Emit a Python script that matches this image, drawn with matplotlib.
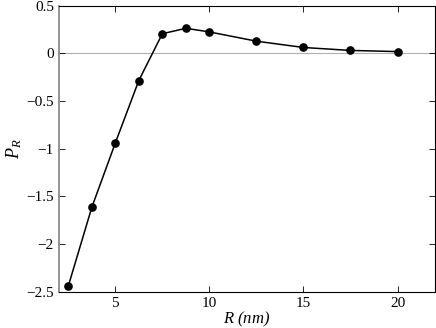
import matplotlib
matplotlib.use("Agg")
import matplotlib.pyplot as plt

# data
R_nm = [2.5, 3.75, 5.0, 6.25, 7.5, 8.75, 10.0, 12.5, 15.0, 17.5, 20.0]
P_R = [-2.44, -1.615, -0.94, -0.285, 0.205, 0.262, 0.224, 0.127, 0.061, 0.030, 0.018]

xticks = [5, 10, 15, 20]
yticks = [-2.5, -2, -1.5, -1, -0.5, 0, 0.5]
ytick_labels = ["\u22122.5", "\u22122", "\u22121.5", "\u22121", "\u22120.5", "0", "0.5"]

plt.rcParams["font.family"] = ["Liberation Serif", "DejaVu Serif"]
plt.rcParams["mathtext.fontset"] = "custom"
plt.rcParams["mathtext.it"] = "Liberation Serif:italic"
plt.rcParams["mathtext.rm"] = "Liberation Serif"

fig = plt.figure(figsize=(4.36, 3.28), dpi=100)
ax = fig.add_axes([0.135, 0.110, 0.863, 0.873])

ax.axhline(0, color="#b0b0b0", linewidth=0.8, zorder=1)
ax.plot(R_nm, P_R, color="black", linewidth=1.1, marker="o", markersize=5.2, zorder=3)

ax.set_xlim(2, 22)
ax.set_ylim(-2.5, 0.5)
ax.set_xticks(xticks)
ax.set_yticks(yticks)
ax.set_yticklabels(ytick_labels)
ax.tick_params(direction="in", top=True, right=True, length=4, width=0.6,
               labelsize=11, colors="black")
for s in ax.spines.values():
    s.set_linewidth(0.8)
ax.spines["left"].set_color("#808080")
ax.spines["left"].set_linewidth(1.2)

ax.set_xlabel("$R$ (nm)", fontsize=12, fontstyle="italic", labelpad=0)
ax.set_ylabel("$P_R$", fontsize=13, labelpad=2)

fig.savefig("out.png", dpi=100)
